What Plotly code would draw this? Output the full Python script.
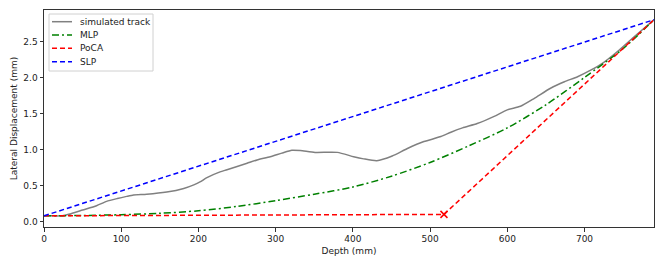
import plotly.graph_objects as go

# ---- data ----
track_depth = [0, 10, 21, 35, 50, 68, 81, 95, 107, 116, 133, 159, 181, 194, 202, 211, 228, 237, 263, 276, 293, 308, 321, 332, 351, 380, 401, 414, 431, 451, 470, 492, 514, 527, 542, 561, 583, 600, 617, 635, 656, 674, 691, 708, 725, 745, 765, 790]
track_disp = [0.08, 0.08, 0.08, 0.11, 0.16, 0.22, 0.28, 0.32, 0.35, 0.37, 0.38, 0.41, 0.46, 0.51, 0.55, 0.61, 0.69, 0.72, 0.81, 0.855, 0.90, 0.95, 0.99, 0.985, 0.96, 0.96, 0.90, 0.87, 0.845, 0.91, 1.01, 1.11, 1.18, 1.24, 1.30, 1.36, 1.46, 1.55, 1.60, 1.71, 1.85, 1.94, 2.01, 2.10, 2.21, 2.38, 2.57, 2.80]

mlp_depth = [0, 50, 100, 150, 200, 250, 300, 350, 400, 450, 500, 550, 600, 650, 700, 750, 790]
mlp_disp = [0.08, 0.085, 0.095, 0.115, 0.15, 0.21, 0.29, 0.38, 0.48, 0.63, 0.82, 1.05, 1.30, 1.62, 2.0, 2.4, 2.8]

poca_depth = [0, 518, 790]
poca_disp = [0.08, 0.10, 2.80]
poca_point_depth = [518]
poca_point_disp = [0.10]

slp_depth = [0, 790]
slp_disp = [0.08, 2.80]

x_ticks = [0, 100, 200, 300, 400, 500, 600, 700]
y_ticks = [0.0, 0.5, 1.0, 1.5, 2.0, 2.5]

legend_names = ["simulated track", "MLP", "PoCA", "SLP"]
legend_colors = ["#808080", "#008000", "#ff0000", "#0000ff"]
legend_dashes = ["solid", "7px,3px,2px,3px", "5px,3px", "5px,3px"]

FONT = "DejaVu Sans"
W, H = 664, 266
ML, MR, MT, MB = 44, 10, 10, 39
PW, PH = W - ML - MR, H - MT - MB

def px2paper_x(px):
    return (px - ML) / PW

def px2paper_y(py):
    return (H - MB - py) / PH

fig = go.Figure()
fig.add_trace(go.Scatter(x=track_depth, y=track_disp, mode="lines", name=legend_names[0],
                         line=dict(color=legend_colors[0], width=1.5, shape="spline", smoothing=0.6)))
fig.add_trace(go.Scatter(x=mlp_depth, y=mlp_disp, mode="lines", name=legend_names[1],
                         line=dict(color=legend_colors[1], width=1.5, dash=legend_dashes[1], shape="spline", smoothing=0.8)))
fig.add_trace(go.Scatter(x=poca_depth, y=poca_disp, mode="lines", name=legend_names[2],
                         line=dict(color=legend_colors[2], width=1.5, dash=legend_dashes[2])))
fig.add_trace(go.Scatter(x=slp_depth, y=slp_disp, mode="lines", name=legend_names[3],
                         line=dict(color=legend_colors[3], width=1.5, dash=legend_dashes[3])))
fig.add_trace(go.Scatter(x=poca_point_depth, y=poca_point_disp, mode="markers",
                         marker=dict(symbol="x-thin", size=7, line=dict(color="#ff0000", width=1.5), color="#ff0000")))

axis_common = dict(showline=True, linecolor="#333333", linewidth=1, mirror=True,
                   ticks="outside", ticklen=3.5, tickwidth=1, tickcolor="#333333",
                   showgrid=False, zeroline=False, automargin=False,
                   tickfont=dict(family=FONT, size=9, color="#222222"))

# manual legend (matplotlib-style compact legend)
shapes = [dict(type="rect", xref="paper", yref="paper",
               x0=px2paper_x(49), x1=px2paper_x(153), y0=px2paper_y(71), y1=px2paper_y(14),
               line=dict(color="#d0d0d0", width=1), fillcolor="rgba(255,255,255,0.85)", layer="above")]
annotations = []
row_y = [21.7, 35.0, 48.3, 61.7]
for name, col, dash, ry in zip(legend_names, legend_colors, legend_dashes, row_y):
    shapes.append(dict(type="line", xref="paper", yref="paper",
                       x0=px2paper_x(52), x1=px2paper_x(72), y0=px2paper_y(ry), y1=px2paper_y(ry),
                       line=dict(color=col, width=1.5, dash=dash), layer="above"))
    annotations.append(dict(xref="paper", yref="paper", x=px2paper_x(78), y=px2paper_y(ry),
                            xanchor="left", yanchor="middle", text=name, showarrow=False,
                            font=dict(family=FONT, size=9, color="#222222")))

fig.update_layout(
    width=W, height=H,
    margin=dict(l=ML, r=MR, t=MT, b=MB),
    paper_bgcolor="white", plot_bgcolor="white",
    font=dict(family=FONT, size=9, color="#222222"),
    xaxis=dict(range=[0, 790], tickvals=x_ticks,
               title=dict(text="Depth (mm)", font=dict(family=FONT, size=9), standoff=4),
               **axis_common),
    yaxis=dict(range=[-0.075, 2.935], tickvals=y_ticks, tickformat=".1f",
               title=dict(text="Lateral Displacement (mm)", font=dict(family=FONT, size=9), standoff=4),
               **axis_common),
    shapes=shapes, annotations=annotations,
    showlegend=False,
    hovermode=False,
)

fig.write_html("out.html",
               config={"displayModeBar": False, "staticPlot": True},
               post_script="document.body.style.margin='0px';document.body.style.overflow='hidden';")
